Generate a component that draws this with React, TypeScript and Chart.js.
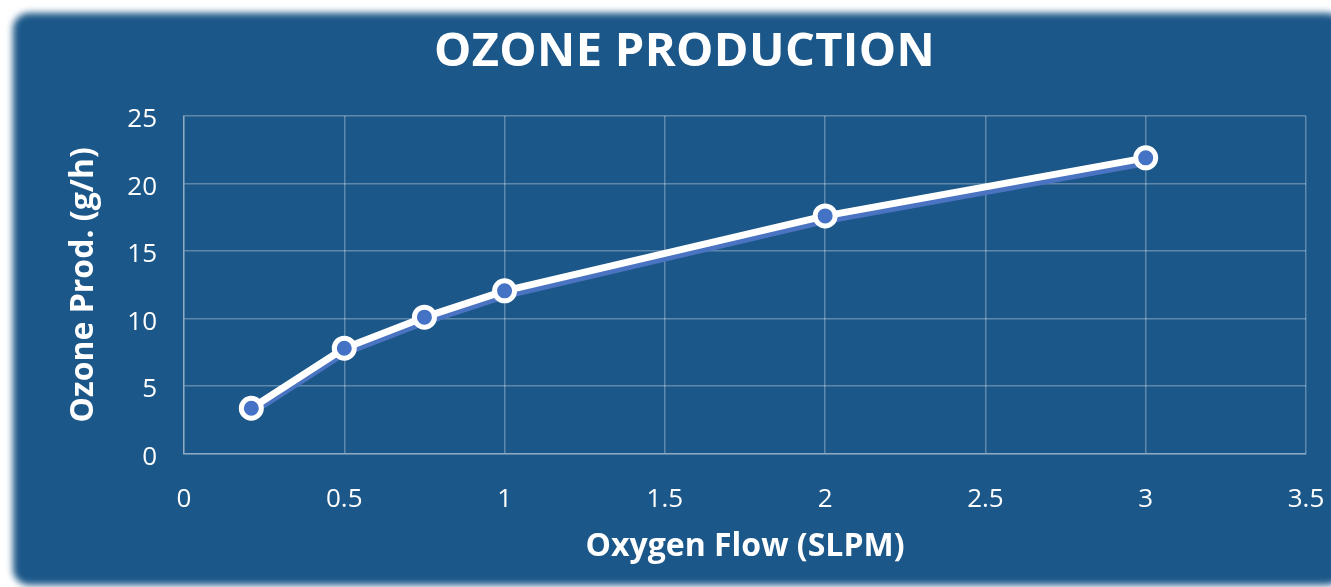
import { useEffect, useRef } from 'react';
import { Chart, registerables } from 'chart.js';

Chart.register(...registerables);

// ---- data ----
const oxygenFlow: number[] = [0.21, 0.5, 0.75, 1, 2, 3];
const ozoneProduction: number[] = [3.35, 7.8, 10.1, 12.05, 17.6, 21.9];
const xTickValues: number[] = [0, 0.5, 1, 1.5, 2, 2.5, 3, 3.5];
const yTickValues: number[] = [0, 5, 10, 15, 20, 25];
const chartTitle = 'OZONE PRODUCTION';
const xAxisTitle = 'Oxygen Flow (SLPM)';
const yAxisTitle = 'Ozone Prod. (g/h)';

const FONT = "'Open Sans', sans-serif";
const GRID = 'rgba(255,255,255,0.3)';

const lineShadow = {
  id: 'lineShadow',
  beforeDatasetDraw(chart: any, args: any) {
    if (args.meta.label === 'line') {
      const ctx = chart.ctx;
      ctx.save();
      ctx.shadowColor = '#4a74c2';
      ctx.shadowOffsetX = -1;
      ctx.shadowOffsetY = 5;
      ctx.shadowBlur = 0;
    }
  },
  afterDatasetDraw(chart: any, args: any) {
    if (args.meta.label === 'line') chart.ctx.restore();
  },
};

export default function App() {
  const ref = useRef<HTMLCanvasElement | null>(null);

  useEffect(() => {
    if (!ref.current) return;
    const points = oxygenFlow.map((x, i) => ({ x, y: ozoneProduction[i] }));
    const chart = new Chart(ref.current, {
      type: 'line',
      data: {
        datasets: [
          {
            label: 'points',
            data: points,
            showLine: false,
            pointRadius: 10,
            pointHoverRadius: 10,
            pointBorderWidth: 5,
            pointBorderColor: '#ffffff',
            pointBackgroundColor: '#4472c4',
            order: 1,
          },
          {
            label: 'line',
            data: points,
            borderColor: '#ffffff',
            borderWidth: 7,
            borderJoinStyle: 'round',
            borderCapStyle: 'round',
            pointRadius: 0,
            tension: 0,
            fill: false,
            order: 2,
          },
        ],
      },
      options: {
        responsive: false,
        animation: false,
        layout: { padding: { left: 0, right: 0, top: 116, bottom: 0 } },
        plugins: {
          legend: { display: false },
          tooltip: { enabled: false },
          title: { display: false },
        },
        scales: {
          x: {
            type: 'linear',
            min: 0,
            max: 3.5,
            afterBuildTicks: (scale: any) => {
              scale.ticks = xTickValues.map((v) => ({ value: v }));
            },
            afterFit: (scale: any) => {
              scale.height = 133.5;
              scale.paddingRight = 25;
              scale.paddingLeft = 0;
            },
            ticks: {
              color: '#ffffff',
              padding: 30,
              font: { family: FONT, size: 26 },
              callback: (v: any) => String(v),
            },
            grid: { color: GRID, lineWidth: 1.5, drawTicks: false },
            border: { display: true, color: GRID, width: 1.5 },
            title: {
              display: true,
              text: xAxisTitle,
              color: '#ffffff',
              font: { family: FONT, size: 32, weight: 'bold', lineHeight: 1.2 },
              padding: { top: 0, bottom: 21 },
            },
          },
          y: {
            type: 'linear',
            min: 0,
            max: 25,
            afterBuildTicks: (scale: any) => {
              scale.ticks = yTickValues.map((v) => ({ value: v }));
            },
            afterFit: (scale: any) => {
              scale.width = 184;
            },
            ticks: {
              color: '#ffffff',
              padding: 27,
              labelOffset: 4,
              font: { family: FONT, size: 26 },
              callback: (v: any) => String(v),
            },
            grid: { color: GRID, lineWidth: 1.5, drawTicks: false },
            border: { display: true, color: GRID, width: 1.5 },
            title: {
              display: true,
              text: yAxisTitle,
              color: '#ffffff',
              font: { family: FONT, size: 32, weight: 'bold', lineHeight: 1.2 },
              padding: { top: 65, bottom: 0 },
            },
          },
        },
      },
      plugins: [lineShadow],
    } as any);
    return () => chart.destroy();
  }, []);

  return (
    <div
      style={{
        position: 'fixed',
        left: 0,
        top: 0,
        width: 1331,
        height: 587,
        overflow: 'hidden',
        background: '#ffffff',
      }}
    >
      <div
        style={{
          position: 'absolute',
          left: 13,
          top: 13,
          width: 1330,
          height: 572,
          borderRadius: 16,
          background: '#1b5788',
          filter: 'blur(3.5px)',
        }}
      />
      <canvas
        ref={ref}
        width={1331}
        height={587}
        style={{ position: 'absolute', left: 0, top: 0, width: 1331, height: 587 }}
      />
      <div
        style={{
          position: 'absolute',
          left: 0,
          top: 25,
          width: 1369,
          textAlign: 'center',
          fontFamily: FONT,
          fontWeight: 700,
          fontSize: 47,
          lineHeight: '47px',
          color: '#ffffff',
          letterSpacing: '0.35px',
          whiteSpace: 'nowrap',
        }}
      >
        {chartTitle}
      </div>
    </div>
  );
}
